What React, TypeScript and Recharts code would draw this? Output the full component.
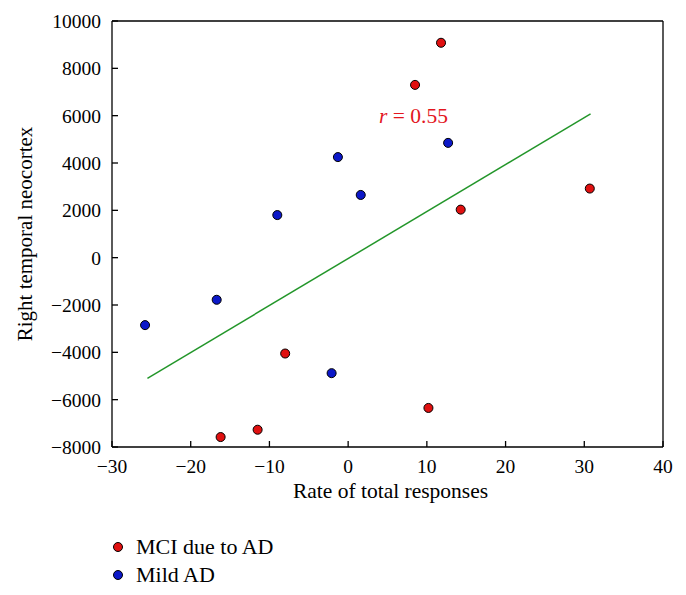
import { ScatterChart, Scatter, XAxis, YAxis, ReferenceLine, ReferenceDot, Legend } from 'recharts';

const font = '"Liberation Serif", "Times New Roman", serif';

const xTicks = [-30, -20, -10, 0, 10, 20, 30, 40];
const yTicks = [-8000, -6000, -4000, -2000, 0, 2000, 4000, 6000, 8000, 10000];

const mciPoints = [
  { x: 11.8, y: 9080 },
  { x: 8.5, y: 7300 },
  { x: 30.7, y: 2920 },
  { x: 14.3, y: 2030 },
  { x: -8.0, y: -4050 },
  { x: 10.2, y: -6350 },
  { x: -11.5, y: -7270 },
  { x: -16.2, y: -7580 },
];

const mildPoints = [
  { x: -1.3, y: 4250 },
  { x: 12.7, y: 4850 },
  { x: 1.6, y: 2650 },
  { x: -9.0, y: 1800 },
  { x: -16.7, y: -1780 },
  { x: -25.8, y: -2850 },
  { x: -2.1, y: -4880 },
];

const fitLine = [
  { x: -25.5, y: -5100 },
  { x: 30.8, y: 6080 },
];

const rValue = '0.55';
const rLabelAt = { x: 8.3, y: 6000 };

const groups = [
  { name: 'MCI due to AD', color: '#e01010', points: mciPoints },
  { name: 'Mild AD', color: '#0c18c8', points: mildPoints },
];

const fmt = (v: number) => (v < 0 ? `\u2212${Math.abs(v)}` : `${v}`);

const tickStyle = { fill: '#000', fontSize: 19.5, fontFamily: font };
const frame = { stroke: '#000', strokeWidth: 1.3 };

function YTitle({ viewBox }: any) {
  const cy = viewBox.y + viewBox.height / 2;
  return (
    <text
      x={24}
      y={cy}
      transform={`rotate(-90, 24, ${cy})`}
      textAnchor="middle"
      fill="#000"
      fontSize={21}
      fontFamily={font}
    >
      Right temporal neocortex
    </text>
  );
}

function XTitle({ viewBox }: any) {
  return (
    <text x={viewBox.x + viewBox.width / 2 + 3} y={viewBox.y + 51} textAnchor="middle" fill="#000" fontSize={21.5} fontFamily={font}>
      Rate of total responses
    </text>
  );
}

function RLabel({ viewBox }: any) {
  return (
    <text x={viewBox.x} y={viewBox.y} textAnchor="middle" dominantBaseline="central" fill="#e3161e" fontSize={21.5} fontFamily={font}>
      <tspan fontStyle="italic">r</tspan> = {rValue}
    </text>
  );
}

function LegendBox() {
  return (
    <div style={{ fontFamily: font, fontSize: 22, color: '#000' }}>
      {groups.map((g) => (
        <div key={g.name} style={{ display: 'flex', alignItems: 'center', height: 28 }}>
          <svg width={12} height={12} style={{ marginRight: 12 }}>
            <circle cx={6} cy={6} r={4.5} fill={g.color} stroke="#000" strokeWidth={1} />
          </svg>
          <span>{g.name}</span>
        </div>
      ))}
    </div>
  );
}

export default function App() {
  return (
    <div style={{ width: 670, height: 580 }}>
      <ScatterChart width={670} height={574} margin={{ top: 12, right: 14, bottom: 105, left: 44 }}>
        <XAxis
          dataKey="x"
          type="number"
          domain={[-30, 40]}
          ticks={xTicks}
          allowDataOverflow
          height={30}
          tickSize={-6}
          tickMargin={18}
          tickFormatter={fmt}
          tick={tickStyle}
          axisLine={frame}
          tickLine={frame}
          label={{ content: <XTitle /> }}
        />
        <XAxis
          xAxisId="top"
          orientation="top"
          type="number"
          domain={[-30, 40]}
          ticks={xTicks}
          allowDataOverflow
          height={1}
          tickSize={-6}
          tick={false}
          axisLine={frame}
          tickLine={frame}
        />
        <YAxis
          dataKey="y"
          type="number"
          domain={[-8000, 10000]}
          ticks={yTicks}
          allowDataOverflow
          width={60}
          tickSize={-6}
          tickMargin={17}
          tickFormatter={fmt}
          tick={tickStyle}
          axisLine={frame}
          tickLine={frame}
          label={{ content: <YTitle /> }}
        />
        <YAxis
          yAxisId="right"
          orientation="right"
          type="number"
          domain={[-8000, 10000]}
          ticks={yTicks}
          allowDataOverflow
          width={1}
          tickSize={-6}
          tick={false}
          axisLine={frame}
          tickLine={frame}
        />
        <ReferenceLine segment={fitLine} stroke="#23962a" strokeWidth={1.5} />
        {groups.map((g) => (
          <Scatter
            key={g.name}
            name={g.name}
            data={g.points}
            fill={g.color}
            stroke="#000"
            strokeWidth={1}
            isAnimationActive={false}
          />
        ))}
        <ReferenceDot x={rLabelAt.x} y={rLabelAt.y} r={0} fill="none" stroke="none" label={{ content: <RLabel /> }} />
        <Legend
          layout="vertical"
          align="center"
          verticalAlign="middle"
          content={<LegendBox />}
          wrapperStyle={{ position: 'absolute', left: 104, top: 525, width: 'auto' }}
        />
      </ScatterChart>
    </div>
  );
}
